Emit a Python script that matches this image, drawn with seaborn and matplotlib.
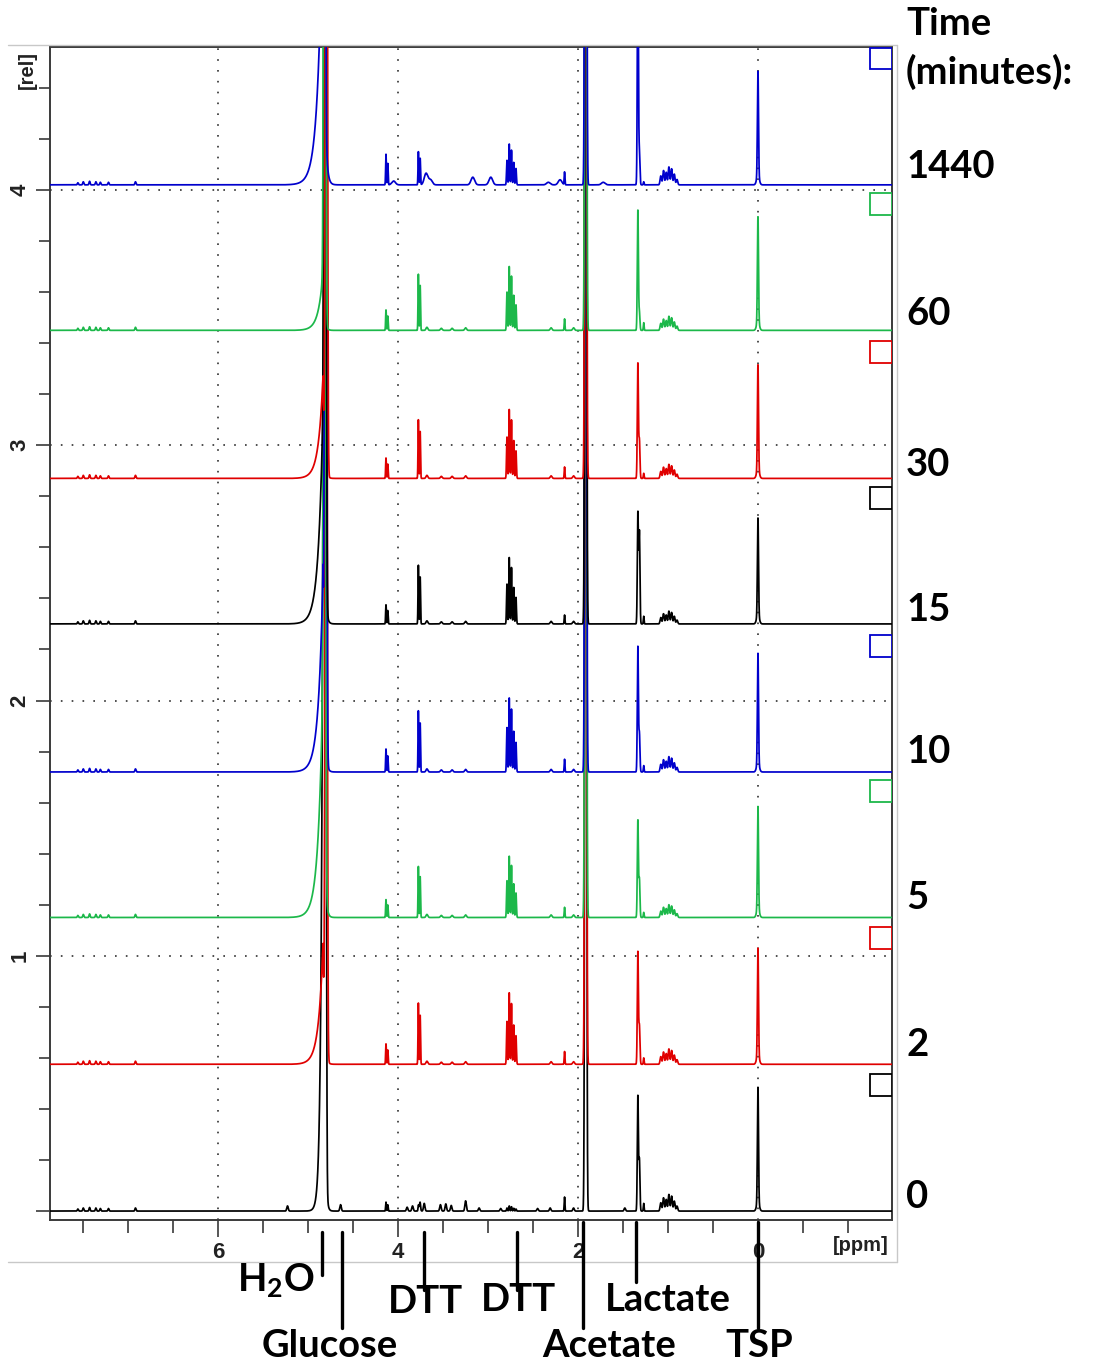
import numpy as np
import pandas as pd
import matplotlib
matplotlib.use("Agg")
import matplotlib.pyplot as plt
import seaborn as sns
from matplotlib.patches import Rectangle
from matplotlib.lines import Line2D
from matplotlib.ticker import MultipleLocator, FixedLocator

sns.set_style("white")
plt.rcParams["font.family"] = ["Liberation Sans", "DejaVu Sans"]
plt.rcParams["mathtext.fontset"] = "custom"
plt.rcParams["mathtext.bf"] = "Lato:bold"
plt.rcParams["mathtext.rm"] = "Lato"

# ---------------------------------------------------------------- data
times = ["0", "2", "5", "10", "15", "30", "60", "1440"]
offsets = [0.0, 0.575, 1.15, 1.72, 2.30, 2.87, 3.45, 4.02]
colors = ["#000000", "#e00000", "#1cb84a", "#0000cc",
          "#000000", "#e00000", "#1cb84a", "#0000cc"]

# water signal: broad base + tall narrow line (per spectrum)
water_base_ppm = [4.835, 4.835, 4.835, 4.835, 4.835, 4.835, 4.835, 4.835]
water_base_height = [2.9, 0.47, 0.95, 0.78, 0.85, 0.40, 0.23, 1.20]
water_base_left = [0.020, 0.05, 0.05, 0.05, 0.05, 0.05, 0.05, 0.053]
water_base_right = [0.012, 0.015, 0.015, 0.015, 0.015, 0.015, 0.015, 0.018]
water_ppm = [4.812, 4.800, 4.818, 4.806, 4.812, 4.798, 4.816, 4.822]
water_height = [6.0, 6.0, 6.0, 6.0, 6.0, 6.0, 6.0, 6.0]

# aromatic region, same in every trace
aromatic_ppm = [7.56, 7.50, 7.43, 7.36, 7.31, 7.22, 6.92]
aromatic_height = [0.008, 0.012, 0.014, 0.012, 0.010, 0.010, 0.012]

# DTT signals
dtt1_ppm = [4.135, 4.115]
dtt1_height = [0.035, 0.08, 0.07, 0.09, 0.075, 0.08, 0.08, 0.12]
dtt2_ppm = [3.775, 3.755]
dtt2_height = [0.02, 0.24, 0.20, 0.24, 0.23, 0.23, 0.22, 0.13]
dtt3_ppm = [2.79, 2.765, 2.74, 2.715, 2.69]
dtt3_pattern = [0.6, 1.0, 0.85, 0.55, 0.4]
dtt3_height = [0.02, 0.28, 0.24, 0.29, 0.26, 0.27, 0.25, 0.16]

# small singlet near 2.15 ppm
s215_height = [0.055, 0.05, 0.04, 0.05, 0.035, 0.045, 0.045, 0.05]

# acetate (off scale in every trace)
acetate_ppm = 1.915
acetate_height = [6.0, 6.0, 6.0, 6.0, 6.0, 6.0, 6.0, 6.0]

# lactate doublet
lactate_ppm = [1.335, 1.318]
lactate_height = [0.45, 0.44, 0.38, 0.49, 0.435, 0.45, 0.47, 0.90]
lactate_second = [0.20, 0.15, 0.15, 0.15, 0.36, 0.15, 0.07, 0.13]
s127_height = [0.03, 0.025, 0.02, 0.025, 0.03, 0.02, 0.03, 0.012]

# methyl multiplet around 1 ppm
methyl_ppm = [1.08, 1.05, 1.02, 0.99, 0.96, 0.93, 0.90]
methyl_pattern = [0.5, 0.8, 0.7, 1.0, 0.9, 0.6, 0.3]
methyl_height = [0.065, 0.06, 0.05, 0.06, 0.05, 0.055, 0.055, 0.07]

# TSP reference
tsp_height = [0.45, 0.42, 0.40, 0.43, 0.38, 0.41, 0.41, 0.41]

# glucose and other small signals of the first trace
t0_ppm = [5.23, 4.64, 3.90, 3.84, 3.76, 3.71, 3.53, 3.47, 3.41, 3.25, 3.10,
          2.86, 2.45, 2.31, 2.05, 1.48]
t0_height = [0.02, 0.025, 0.015, 0.02, 0.022, 0.03, 0.025, 0.028, 0.022,
             0.04, 0.012, 0.01, 0.01, 0.012, 0.012, 0.012]

# extra signals of the last trace
t1440_ppm = [4.05, 3.69, 3.64, 3.17, 2.97, 2.33, 2.20, 1.72]
t1440_height = [0.015, 0.045, 0.02, 0.03, 0.03, 0.01, 0.02, 0.01]

# small signals shared by the intermediate traces
mid_ppm = [3.68, 3.52, 3.40, 3.25, 2.30, 2.05]
mid_height = [0.012, 0.008, 0.008, 0.01, 0.01, 0.01]

# ------------------------------------------------------------ line shapes
ppm = np.linspace(7.95, -1.55, 19001)


def gauss(center, height, sigma):
    return height * np.exp(-0.5 * ((ppm - center) / sigma) ** 2)


def laplace(center, height, wl, wr):
    d = ppm - center
    w = np.where(d > 0, wl, wr)
    return height * np.exp(-np.abs(d) / w)


def trace(i):
    y = np.zeros_like(ppm)
    y += laplace(water_base_ppm[i], water_base_height[i],
                 water_base_left[i], water_base_right[i])
    y += gauss(water_ppm[i], water_height[i], 0.009)
    for p, h in zip(aromatic_ppm, aromatic_height):
        y += gauss(p, h, 0.006)
    y += gauss(dtt1_ppm[0], dtt1_height[i], 0.004)
    y += gauss(dtt1_ppm[1], 0.7 * dtt1_height[i], 0.004)
    y += gauss(dtt2_ppm[0], dtt2_height[i], 0.004)
    y += gauss(dtt2_ppm[1], 0.8 * dtt2_height[i], 0.004)
    for p, r in zip(dtt3_ppm, dtt3_pattern):
        y += gauss(p, r * dtt3_height[i], 0.005)
    y += gauss(2.15, s215_height[i], 0.004)
    y += gauss(acetate_ppm, acetate_height[i], 0.008)
    y += gauss(lactate_ppm[0], lactate_height[i], 0.006)
    y += gauss(lactate_ppm[1], lactate_second[i], 0.006)
    y += gauss(1.27, s127_height[i], 0.004)
    for p, r in zip(methyl_ppm, methyl_pattern):
        y += gauss(p, r * methyl_height[i], 0.008)
    y += gauss(0.0, tsp_height[i], 0.006)
    y += gauss(0.0, 0.035, 0.015)
    if i == 0:
        for p, h in zip(t0_ppm, t0_height):
            y += gauss(p, h, 0.008)
    elif i == 7:
        for p, h in zip(t1440_ppm, t1440_height):
            y += gauss(p, h, 0.02)
    else:
        for p, h in zip(mid_ppm, mid_height):
            y += gauss(p, h, 0.01)
    return y + offsets[i]


# ------------------------------------------------------------------ figure
W, H = 1094, 1364
fig = plt.figure(figsize=(W / 100, H / 100), dpi=100)


def fx(px):
    return px / W


def fy(py):
    return 1 - py / H


ax = fig.add_axes([fx(50), fy(1220), fx(892) - fx(50), fy(47) - fy(1220)])

for i, t in enumerate(times):
    df = pd.DataFrame({"ppm": ppm, "intensity": trace(i)})
    sns.lineplot(data=df, x="ppm", y="intensity", color=colors[i], lw=1.25,
                 sort=False, estimator=None, ax=ax, zorder=3 + i)
    # colour marker box at the right edge of each trace
    ax.add_patch(Rectangle((-1.49, offsets[i] + 0.452), 0.245, 0.085,
                           fill=True, facecolor="white", edgecolor=colors[i],
                           lw=1.3, zorder=20))

ax.set_xlim(7.87, -1.49)
ax.set_ylim(-0.035, 4.56)
ax.set_xlabel("")
ax.set_ylabel("")

# dotted grid
for gx in [6, 4, 2, 0]:
    ax.axvline(gx, color="#303030", lw=1.2, ls=(0, (1, 5.5)), zorder=2)
for gy in [1, 2, 3, 4]:
    ax.axhline(gy, color="#303030", lw=1.2, ls=(0, (1, 5.5)), zorder=2)

for s in ax.spines.values():
    s.set_color("#3a3a3a")
    s.set_linewidth(1.4)

ax.xaxis.set_major_locator(FixedLocator([6, 4, 2, 0]))
ax.xaxis.set_minor_locator(MultipleLocator(0.5))
ax.yaxis.set_major_locator(FixedLocator([0, 1, 2, 3, 4]))
ax.yaxis.set_minor_locator(MultipleLocator(0.2))
ax.set_yticklabels(["", "1", "2", "3", "4"])
ax.tick_params(axis="both", which="both", direction="out", color="#3a3a3a",
               width=1.2, bottom=True, left=True, top=False, right=False)
ax.tick_params(axis="x", which="major", length=12, pad=4, labelsize=16)
ax.tick_params(axis="x", which="minor", length=9)
ax.tick_params(axis="y", which="major", length=10, pad=4, labelsize=16)
ax.tick_params(axis="y", which="minor", length=8)
for lab in ax.get_xticklabels() + ax.get_yticklabels():
    lab.set_fontweight("bold")
    lab.set_color("#222222")
for lab in ax.get_yticklabels():
    lab.set_rotation(90)
    lab.set_va("center")

ax.text(1.0 - 0.004, -0.014, "[ppm]", transform=ax.transAxes, ha="right",
        va="top", fontsize=14.5, fontweight="bold", color="#222222")
fig.text(fx(27), fy(70), "[rel]", rotation=90, ha="center", va="center",
         fontsize=14.5, fontweight="bold", color="#222222")

# light outer frame of the plotting window
for xs, ys in [([8, 897], [45, 45]), ([8, 897], [1262, 1262]),
               ([897, 897], [45, 1262])]:
    fig.add_artist(Line2D([fx(v) for v in xs], [fy(v) for v in ys],
                          color="#c8c8c8", lw=1.0))

# time labels on the right
lab_font = dict(family=["Lato", "DejaVu Sans"], fontweight="bold",
                fontsize=27.5, color="black")
fig.text(fx(906), fy(24), "Time", ha="left", va="center", **lab_font)
fig.text(fx(906), fy(72), "(minutes):", ha="left", va="center", **lab_font)
time_label_y = [1197, 1045, 898, 752, 610, 465, 314, 167]
for t, py in zip(times, time_label_y):
    fig.text(fx(906), fy(py), t, ha="left", va="center", **lab_font)

# assignment markers below the axis
markers = [
    (4.84, 1232, 1275, r"$\mathbf{H_2O}$", 276, 1280),
    (4.62, 1232, 1328, "Glucose", 330, 1346),
    (3.71, 1232, 1290, "DTT", 425, 1302),
    (2.68, 1232, 1290, "DTT", 518, 1300),
    (1.95, 1222, 1328, "Acetate", 609, 1346),
    (1.36, 1222, 1282, "Lactate", 668, 1300),
    (0.0, 1222, 1328, "TSP", 759, 1346),
]
for p, y0, y1, text, tx, ty in markers:
    px = 758 - 90 * p
    fig.add_artist(Line2D([fx(px), fx(px)], [fy(y0), fy(y1)], color="black",
                          lw=2.4, zorder=10))
    fig.text(fx(tx), fy(ty), text, ha="center", va="center", **lab_font)

fig.savefig("out.png", dpi=100)
